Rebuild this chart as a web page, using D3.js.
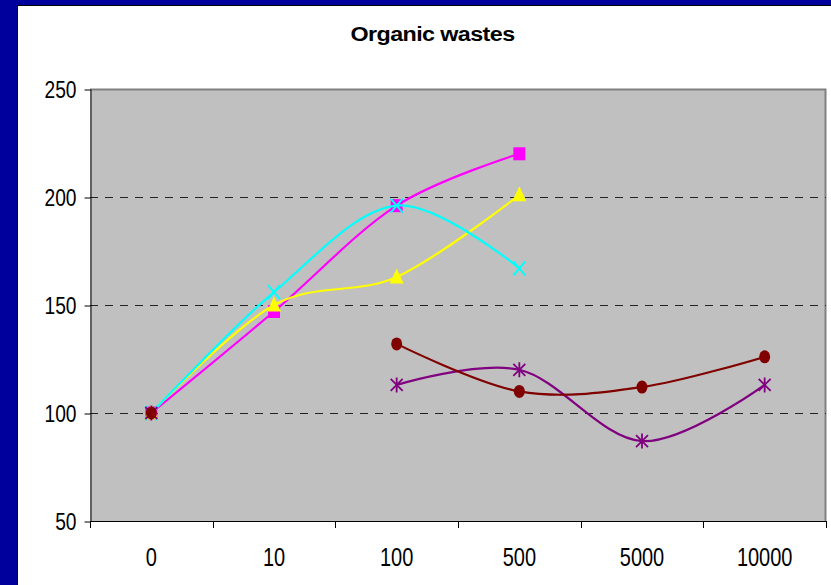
<!DOCTYPE html>
<html>
<head>
<meta charset="utf-8">
<script src="https://cdn.jsdelivr.net/npm/d3@7"></script>
<style>
  body { margin: 0; background: #fff; }
  svg { display: block; font-family: "Liberation Sans", Arial, sans-serif; }
</style>
</head>
<body>
<div id="chart"></div>
<script>
var w = 831;
var h = 585;

// *** chart data ***
var categories = ["0", "10", "100", "500", "5000", "10000"];
var yTicks = [50, 100, 150, 200, 250];
var gridValues = [100, 150, 200];
var magentaValues = [100, 147, 196, 220, null, null];
var yellowValues = [100, 150, 163, 201, null, null];
var cyanValues = [100, 156, 196, 167, null, null];
var purpleValues = [100, null, 113, 120, 87, 113];
var darkRedValues = [100, null, 132, 110, 112, 126];
var titleText = "Organic wastes";
// ****************************************

// series in Excel drawing order (later ones sit on top)
var series = [
  {values: magentaValues, color: "#ff00ff", marker: "square"},
  {values: yellowValues, color: "#ffff00", marker: "triangle"},
  {values: cyanValues, color: "#00ffff", marker: "cross"},
  {values: purpleValues, color: "#800080", marker: "star"},
  {values: darkRedValues, color: "#800000", marker: "circle"}
];

var svg = d3.select("#chart")
    .append("svg")
    .attr("width", w)
    .attr("height", h);

// navy slide frame
svg.append("rect").attr("width", w).attr("height", h).attr("fill", "#00009c");
svg.append("rect").attr("x", 17).attr("y", 5).attr("width", w - 17).attr("height", h - 5)
    .attr("fill", "#000");
svg.append("rect").attr("x", 18).attr("y", 6).attr("width", w - 18).attr("height", h - 6)
    .attr("fill", "#fff");

var margin = {top: 89, left: 90},
    width = 736,
    height = 432;

var x = d3.scaleBand().domain(categories).range([0, width]),
    y = d3.scaleLinear().domain([50, 250]).range([height, 0]);

var g = svg.append("g")
    .attr("transform", "translate(" + margin.left + "," + margin.top + ")");

// plot area
g.append("rect")
    .attr("width", width)
    .attr("height", height)
    .attr("fill", "#c0c0c0");
g.append("path")
    .attr("d", "M0,0.5H" + (width - 0.5) + "V" + height)
    .attr("fill", "none")
    .attr("stroke", "#808080")
    .attr("stroke-width", 2);

// dashed gridlines
g.selectAll(".grid")
    .data(gridValues)
    .enter().append("line")
      .attr("class", "grid")
      .attr("x1", 0)
      .attr("x2", width)
      .attr("y1", function(d) { return Math.round(y(d)) + 0.5; })
      .attr("y2", function(d) { return Math.round(y(d)) + 0.5; })
      .attr("stroke", "#222")
      .attr("stroke-dasharray", "8,7");

// y axis
var yAxis = g.append("g")
    .attr("transform", "translate(0.5,0)")
    .call(d3.axisLeft(y).tickValues(yTicks).tickSize(6).tickSizeOuter(0));
yAxis.select(".domain").attr("stroke", "#000");
yAxis.selectAll(".tick line").attr("stroke", "#000")
    .attr("transform", "translate(0,0.5)");
yAxis.selectAll(".tick text")
    .attr("font-size", 24)
    .attr("font-family", "'Liberation Sans', Arial, sans-serif")
    .attr("fill", "#000")
    .attr("x", -14 / 0.8)
    .attr("dy", "0.36em")
    .attr("transform", "scale(0.8,1)");

// x axis: labels at band centres, ticks between categories
var xAxis = g.append("g")
    .attr("transform", "translate(0," + height + ")")
    .call(d3.axisBottom(x).tickSize(0).tickSizeOuter(0));
xAxis.select(".domain").remove();
xAxis.selectAll(".tick text")
    .attr("font-size", 25)
    .attr("font-family", "'Liberation Sans', Arial, sans-serif")
    .attr("fill", "#000")
    .attr("y", 45.5)
    .attr("dy", 0)
    .attr("transform", "scale(0.8,1)");
xAxis.selectAll(".tick")
    .attr("transform", function(d) { return "translate(" + (x(d) + x.bandwidth() / 2) + ",0)"; });

var bounds = categories.map(function(d) { return x(d); }).concat([width]);
g.selectAll(".xtick")
    .data(bounds)
    .enter().append("line")
      .attr("class", "xtick")
      .attr("x1", function(d) { return Math.round(d) + 0.5; })
      .attr("x2", function(d) { return Math.round(d) + 0.5; })
      .attr("y1", height)
      .attr("y2", height + 7)
      .attr("stroke", "#000");
g.append("line")
    .attr("x1", 0).attr("x2", width)
    .attr("y1", height + 0.5).attr("y2", height + 0.5)
    .attr("stroke", "#000");

// smoothed lines
var line = d3.line()
    .defined(function(d) { return d != null; })
    .x(function(d, i) { return x(categories[i]) + x.bandwidth() / 2; })
    .y(function(d) { return y(d); })
    .curve(d3.curveCardinal.tension(0));

function drawMarker(sel, s) {
  var c = s.color;
  if (s.marker == "square") {
    sel.append("rect").attr("x", -6).attr("y", -6.5).attr("width", 12).attr("height", 13).attr("fill", c);
  } else if (s.marker == "triangle") {
    sel.append("path").attr("d", "M0,-8.5L7,6.5L-7,6.5Z").attr("fill", c);
  } else if (s.marker == "cross") {
    sel.append("path").attr("d", "M-6,-7L6,7M-6,7L6,-7").attr("stroke", c).attr("stroke-width", 2).attr("fill", "none");
  } else if (s.marker == "star") {
    sel.append("path").attr("d", "M-6,-6L6,6M-6,6L6,-6M0,-7.5V7.5").attr("stroke", c).attr("stroke-width", 1.8).attr("fill", "none");
  } else {
    sel.append("ellipse").attr("rx", 5.5).attr("ry", 6.5).attr("fill", c);
  }
}

series.forEach(function(s) {
  var sg = g.append("g");
  sg.append("path")
      .attr("d", line(s.values))
      .attr("fill", "none")
      .attr("stroke", s.color)
      .attr("stroke-width", 2.2);

  s.values.forEach(function(v, i) {
    if (v == null) return;
    var m = sg.append("g")
        .attr("transform", "translate(" + (x(categories[i]) + x.bandwidth() / 2) + "," + y(v) + ")");
    drawMarker(m, s);
  });
});

// title
svg.append("text")
    .attr("x", 432.5)
    .attr("y", 41)
    .attr("text-anchor", "middle")
    .attr("font-size", 20)
    .attr("font-weight", "bold")
    .attr("textLength", 164)
    .attr("lengthAdjust", "spacingAndGlyphs")
    .attr("letter-spacing", -0.5)
    .text(titleText);
</script>
</body>
</html>
